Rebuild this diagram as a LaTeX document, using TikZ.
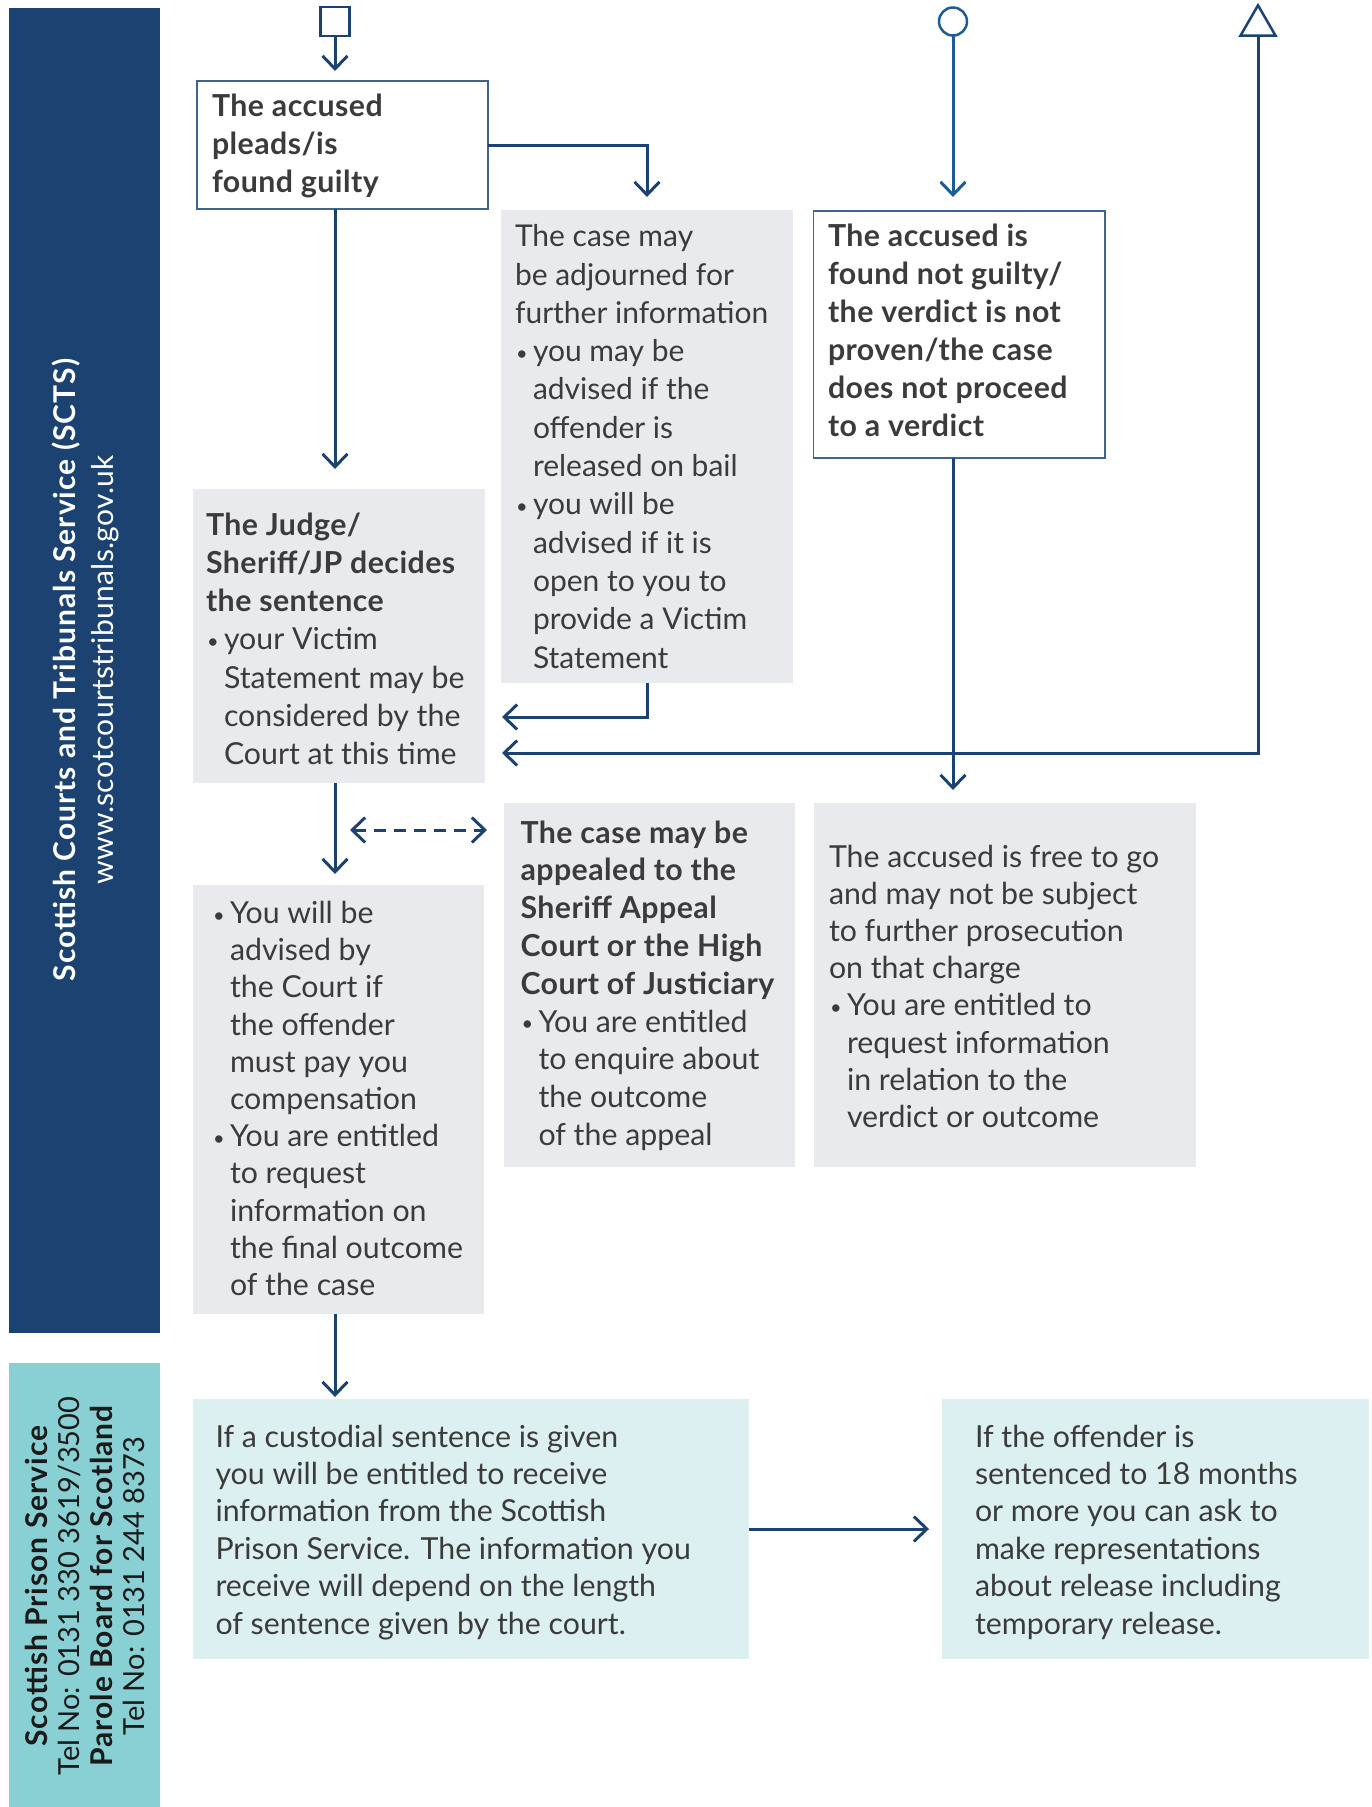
\documentclass[tikz,border=0pt]{standalone}
\usepackage{fontspec}
\setmainfont{Lato}[BoldFeatures={LetterSpace=1.5}]
\newfontfamily\barboldfont{Lato}[LetterSpace=3.3]
\newfontfamily\urlfont{Lato}[LetterSpace=1]
\usetikzlibrary{arrows.meta,shapes.geometric,calc}
\definecolor{navy}{HTML}{1B4270}
\definecolor{blue2}{HTML}{1E5C98}
\definecolor{boxgray}{HTML}{E8EAEE}
\definecolor{tealbar}{HTML}{88D0D3}
\definecolor{tealbox}{HTML}{DCF0F1}
\definecolor{txt}{HTML}{3B3B3B}
\definecolor{bord}{HTML}{3E6592}
\definecolor{bartxt}{HTML}{1A1A1A}
\newcommand\bl{\hbox to 18pt{\hskip1pt\raisebox{1.5pt}{\fontsize{20}{20}\selectfont\textbullet}\hss}}
\newcommand\ind{\hspace*{18pt}}
\newcommand\fl{\rule{0pt}{25pt}}
\tikzset{
  box/.style={rectangle, draw=none, inner sep=0pt, outer sep=0pt, anchor=north west},
  graybox/.style={box, fill=boxgray},
  tealbx/.style={box, fill=tealbox},
  linebox/.style={box, draw=bord, line width=1.5pt, fill=white},
  txtnode/.style={anchor=north west, inner sep=0pt, outer sep=0pt, align=left, text=txt},
  arr/.style={draw=navy, line width=3pt, -{Straight Barb[length=13pt,width=25pt]}},
  marker/.style={draw=navy, line width=2.5pt, fill=white, inner sep=0pt, outer sep=0pt},
  bartext/.style={rotate=90, anchor=base, inner sep=0pt},
}
\begin{document}
\begin{tikzpicture}[x=1pt,y=-1pt]
\useasboundingbox (0,0) rectangle (1371,1807);

% side bars
\node[box, fill=navy, minimum width=151pt, minimum height=1325pt] (bar1) at (9,8) {};
\node[box, fill=tealbar, minimum width=151pt, minimum height=444pt] (bar2) at (9,1363) {};
\node[bartext, text=white, font=\barboldfont\bfseries\fontsize{30}{36}\selectfont] (b1a) at (75,670) {Scottish Courts and Tribunals Service (SCTS)};
\node[bartext, text=white, font=\urlfont\fontsize{30}{36}\selectfont] (b1b) at (113,670) {www.scotcourtstribunals.gov.uk};
\node[bartext, text=bartxt, font=\barboldfont\bfseries\fontsize{30}{36}\selectfont] (b2a) at (47,1586) {Scottish Prison Service};
\node[bartext, text=bartxt, font=\fontsize{29}{36}\selectfont] (b2b) at (79.5,1586) {Tel No: 0131 330 3619/3500};
\node[bartext, text=bartxt, font=\barboldfont\bfseries\fontsize{30}{36}\selectfont] (b2c) at (112,1586) {Parole Board for Scotland};
\node[bartext, text=bartxt, font=\fontsize{29}{36}\selectfont] (b2d) at (144.5,1586) {Tel No: 0131 244 8373};

% start markers
\node[marker, rectangle, minimum size=29pt] (sq) at (335,21.5) {};
\node[marker, circle, draw=blue2, minimum size=28pt] (circ) at (953,21.5) {};
\node[marker, regular polygon, regular polygon sides=3, minimum size=40.4pt] (tri) at (1258,25.5) {};

% boxes
\node[linebox, minimum width=291pt, minimum height=128pt] (acc) at (197,81) {};
\node[graybox, minimum width=292pt, minimum height=473pt] (adj) at (501,210) {};
\node[linebox, minimum width=291.5pt, minimum height=247pt] (ng) at (813.5,211) {};
\node[graybox, minimum width=292pt, minimum height=294pt] (judge) at (193,489) {};
\node[graybox, minimum width=291pt, minimum height=429pt] (adv) at (193,885) {};
\node[graybox, minimum width=291pt, minimum height=364pt] (app) at (504,803) {};
\node[graybox, minimum width=382pt, minimum height=364pt] (free) at (813.5,803) {};
\node[tealbx, minimum width=556pt, minimum height=260pt] (cust) at (193,1399) {};
\node[tealbx, minimum width=427pt, minimum height=260pt] (par) at (942,1399) {};

% texts
\node[txtnode, font=\bfseries\fontsize{30.3}{38.3}\selectfont] (acct) at (212,91) {\fl The accused\\pleads/is\\found guilty};
\node[txtnode, font=\fontsize{30}{38.3}\selectfont] (adjt) at (515,221.7) {\fl The case may\\be adjourned for\\further information\\\bl you may be\\\ind advised if the\\\ind offender is\\\ind released on bail\\\bl you will be\\\ind advised if it is\\\ind open to you to\\\ind provide a Victim\\\ind Statement};
\node[txtnode, font=\bfseries\fontsize{30.3}{38}\selectfont] (ngt) at (828,221.7) {\fl The accused is\\found not guilty/\\the verdict is not\\proven/the case\\does not proceed\\to a verdict};
\node[txtnode, font=\fontsize{30.3}{38.3}\selectfont] (judget) at (206,510) {\fl\textbf{The Judge/}\\\textbf{Sheriff/JP decides}\\\textbf{the sentence}\\\bl your Victim\\\ind Statement may be\\\ind considered by the\\\ind Court at this time};
\node[txtnode, font=\fontsize{30.3}{37.2}\selectfont] (advt) at (212,898.5) {\fl\bl You will be\\\ind advised by\\\ind the Court if\\\ind the offender\\\ind must pay you\\\ind compensation\\\bl You are entitled\\\ind to request\\\ind information on\\\ind the final outcome\\\ind of the case};
\node[txtnode, font=\fontsize{30.3}{37.8}\selectfont] (appt) at (520.5,818) {\fl\textbf{The case may be}\\\textbf{appealed to the}\\\textbf{Sheriff Appeal}\\\textbf{Court or the High}\\\textbf{Court of Justiciary}\\\bl You are entitled\\\ind to enquire about\\\ind the outcome\\\ind of the appeal};
\node[txtnode, font=\fontsize{30.3}{37.1}\selectfont] (freet) at (829,842.5) {\fl The accused is free to go\\and may not be subject\\to further prosecution\\on that charge\\\bl You are entitled to\\\ind request information\\\ind in relation to the\\\ind verdict or outcome};
\node[txtnode, font=\fontsize{30.3}{37.4}\selectfont] (custt) at (215.5,1422) {\fl If a custodial sentence is given\\you will be entitled to receive\\information from the Scottish\\Prison Service. The information you\\receive will depend on the length\\of sentence given by the court.};
\node[txtnode, font=\fontsize{30.3}{37.4}\selectfont] (part) at (975,1422) {\fl If the offender is\\sentenced to 18 months\\or more you can ask to\\make representations\\about release including\\temporary release.};

% connectors
\draw[arr, shorten >=10pt] (sq.south) -- (sq.south |- acc.north);
\draw[arr, shorten >=13pt] (acc.east) -| (adj.north);
\draw[arr, shorten >=20pt] (sq.south |- acc.south) -- (sq.south |- judge.north);
\draw[arr, shorten >=11pt] (sq.south |- judge.south) -- (sq.south |- adv.north);
\draw[arr, shorten >=2pt] (sq.south |- adv.south) -- (sq.south |- cust.north);
\draw[arr, shorten >=17pt] (adj.south) |- ($(judge.east)+(0,81)$);
\draw[arr, shorten >=17pt] (tri.south) |- ($(judge.east)+(0,117)$);
\draw[arr, draw=blue2, shorten >=14pt] (circ.south) -- (circ.south |- ng.north);
\draw[arr, shorten >=13pt] (circ.south |- ng.south) -- (circ.south |- free.north);
\draw[arr, shorten >=13pt] (cust.east) -- (par.west);
\coordinate (dl) at (350,830);
\coordinate (dr) at (487,830);
\draw[draw=navy, line width=3pt, dash pattern=on 12pt off 8pt, {Straight Barb[length=13pt,width=25pt]}-{Straight Barb[length=13pt,width=25pt]}] (dl) -- (dr);
\end{tikzpicture}
\end{document}
